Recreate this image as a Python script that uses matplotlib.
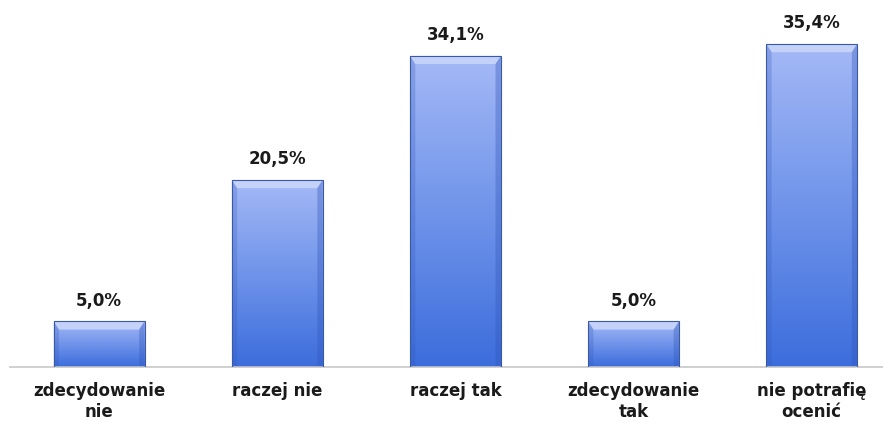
import numpy as np
import matplotlib.pyplot as plt
from matplotlib.colors import LinearSegmentedColormap

kategorie = ['zdecydowanie\nnie', 'raczej nie', 'raczej tak', 'zdecydowanie\ntak', 'nie potrafię\nocenić']
wartosci = [5.0, 20.5, 34.1, 5.0, 35.4]
etykiety = ['5,0%', '20,5%', '34,1%', '5,0%', '35,4%']

fig = plt.figure(figsize=(8.83, 4.25), dpi=100, facecolor='w')
ax = fig.add_axes([10 / 883, 58 / 425, 873 / 883, 365 / 425])

x = np.arange(len(kategorie))
sirina = 0.51
stolpci = ax.bar(x, wartosci, width=sirina, color='none', edgecolor='#3a5aa8', linewidth=0.8, zorder=3)

# gradient from light (top) to darker blue (bottom)
cmap = LinearSegmentedColormap.from_list('modra', ['#3c6ddc', '#7094ea', '#a5b9f6'])
grad = np.linspace(0, 1, 256).reshape(-1, 1)
for s in stolpci:
    x0, y0 = s.get_x(), s.get_y()
    w, h = s.get_width(), s.get_height()
    im = ax.imshow(grad, extent=(x0, x0 + w, y0, y0 + h), origin='lower',
                   cmap=cmap, aspect='auto', zorder=2)
    im.set_clip_path(s)
    # light bevel at the top
    ax.fill([x0, x0 + w, x0 + w - 0.03, x0 + 0.03],
            [y0 + h, y0 + h, y0 + h - 0.9, y0 + h - 0.9],
            color='#c4d2fa', lw=0, zorder=2.5)
    # darker side edges
    ax.fill([x0 + w, x0 + w, x0 + w - 0.03, x0 + w - 0.03],
            [y0, y0 + h, y0 + h - 0.9, y0],
            color='#2f55b8', alpha=0.35, lw=0, zorder=2.5)
    ax.fill([x0, x0, x0 + 0.03, x0 + 0.03],
            [y0, y0 + h, y0 + h - 0.9, y0],
            color='#2f55b8', alpha=0.25, lw=0, zorder=2.5)

for xi, v, t in zip(x, wartosci, etykiety):
    ax.text(xi, v + 1.3, t, ha='center', va='bottom', fontsize=12,
            fontweight='bold', color='#1a1a1a')

ax.set_xlim(-0.5, 4.4)
ax.set_ylim(0, 40)
ax.set_xticks(x)
ax.set_xticklabels(kategorie, fontsize=12, fontweight='bold', color='#1a1a1a', linespacing=1.2)
ax.tick_params(axis='x', length=0, pad=11)
ax.set_yticks([])
for k in ['top', 'right', 'left']:
    ax.spines[k].set_visible(False)
ax.spines['bottom'].set_color('#c8c8c8')
ax.spines['bottom'].set_linewidth(1.2)

plt.savefig('out.png', dpi=100, facecolor='w')
